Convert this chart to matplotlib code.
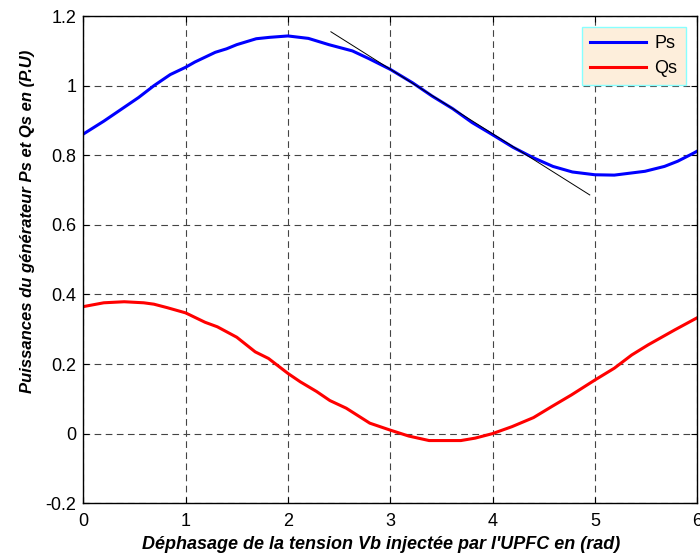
import numpy as np
import matplotlib.pyplot as plt

# values
ps_x = [0.0, 0.2, 0.4, 0.54, 0.69, 0.85, 1.0, 1.09, 1.29, 1.4, 1.5, 1.69, 1.82, 2.0,
        2.2, 2.4, 2.63, 2.79, 3.0, 3.22, 3.41, 3.61, 3.8, 4.0, 4.2, 4.39, 4.59, 4.78,
        5.0, 5.19, 5.49, 5.68, 5.81, 5.97, 6.0]
ps_y = [0.861, 0.898, 0.938, 0.966, 1.0, 1.032, 1.053, 1.068, 1.096, 1.106, 1.118, 1.135,
        1.139, 1.143, 1.136, 1.118, 1.100, 1.078, 1.047, 1.008, 0.970, 0.934, 0.894, 0.859,
        0.823, 0.794, 0.768, 0.752, 0.744, 0.743, 0.754, 0.768, 0.783, 0.807, 0.812]

qs_x = [0.0, 0.2, 0.4, 0.59, 0.69, 0.82, 1.0, 1.19, 1.31, 1.5, 1.68, 1.81, 2.0, 2.12,
        2.28, 2.41, 2.57, 2.8, 3.0, 3.18, 3.38, 3.69, 3.83, 4.0, 4.19, 4.4, 4.58, 4.77,
        5.0, 5.19, 5.36, 5.52, 5.78, 6.0]
qs_y = [0.365, 0.376, 0.379, 0.376, 0.372, 0.362, 0.347, 0.320, 0.307, 0.277, 0.235,
        0.216, 0.173, 0.149, 0.121, 0.095, 0.073, 0.030, 0.010, -0.007, -0.020, -0.020,
        -0.013, 0.0, 0.020, 0.046, 0.078, 0.111, 0.154, 0.188, 0.226, 0.255, 0.298, 0.333]

# tangent drawn on Ps
tan_x = [2.42, 4.95]
tan_y = [1.155, 0.686]

plt.rcParams['font.family'] = ['Liberation Sans', 'DejaVu Sans']

fig = plt.figure(figsize=(7, 5.56), dpi=100)
ax = fig.add_axes([0.119, 0.095, 0.877, 0.876])

ax.plot(ps_x, ps_y, color='#0000ff', lw=2.2, label='Ps')
ax.plot(qs_x, qs_y, color='#ff0000', lw=2.2, label='Qs')
ax.plot(tan_x, tan_y, color='black', lw=0.7)

ax.set_xlim(0, 6)
ax.set_ylim(-0.2, 1.2)
ax.set_xticks(range(0, 7))
ax.set_yticks([-0.2, 0, 0.2, 0.4, 0.6, 0.8, 1, 1.2])
ax.set_yticklabels(['-0.2', '0', '0.2', '0.4', '0.6', '0.8', '1', '1.2'])
ax.tick_params(direction='in', length=4, top=True, right=True, labelsize=13)
ax.tick_params(axis='x', pad=7)
ax.tick_params(axis='y', pad=5)
ax.grid(True, color='#444444', ls=(0, (6, 4)), lw=0.8)
for s in ax.spines.values():
    s.set_linewidth(1.0)

ax.set_xlabel("Déphasage de la tension Vb injectée par l'UPFC en (rad)",
              fontsize=13, fontweight='bold', fontstyle='italic')
ax.xaxis.set_label_coords(0.485, -0.068)
ax.set_ylabel("Puissances du générateur Ps et Qs en (P.U)",
              fontsize=12, fontweight='bold', fontstyle='italic')
ax.yaxis.set_label_coords(-0.078, 0.579)

leg = ax.legend(loc='upper right', bbox_to_anchor=(0.981, 0.978), fontsize=13,
                fancybox=False, framealpha=1, handlelength=3.1, handletextpad=0.45,
                borderpad=0.45, labelspacing=0.45, borderaxespad=0)
leg.get_frame().set_facecolor('#fdeedb')
leg.get_frame().set_edgecolor('#88ffff')
leg.get_frame().set_linewidth(1.0)

fig.savefig('out.png')
